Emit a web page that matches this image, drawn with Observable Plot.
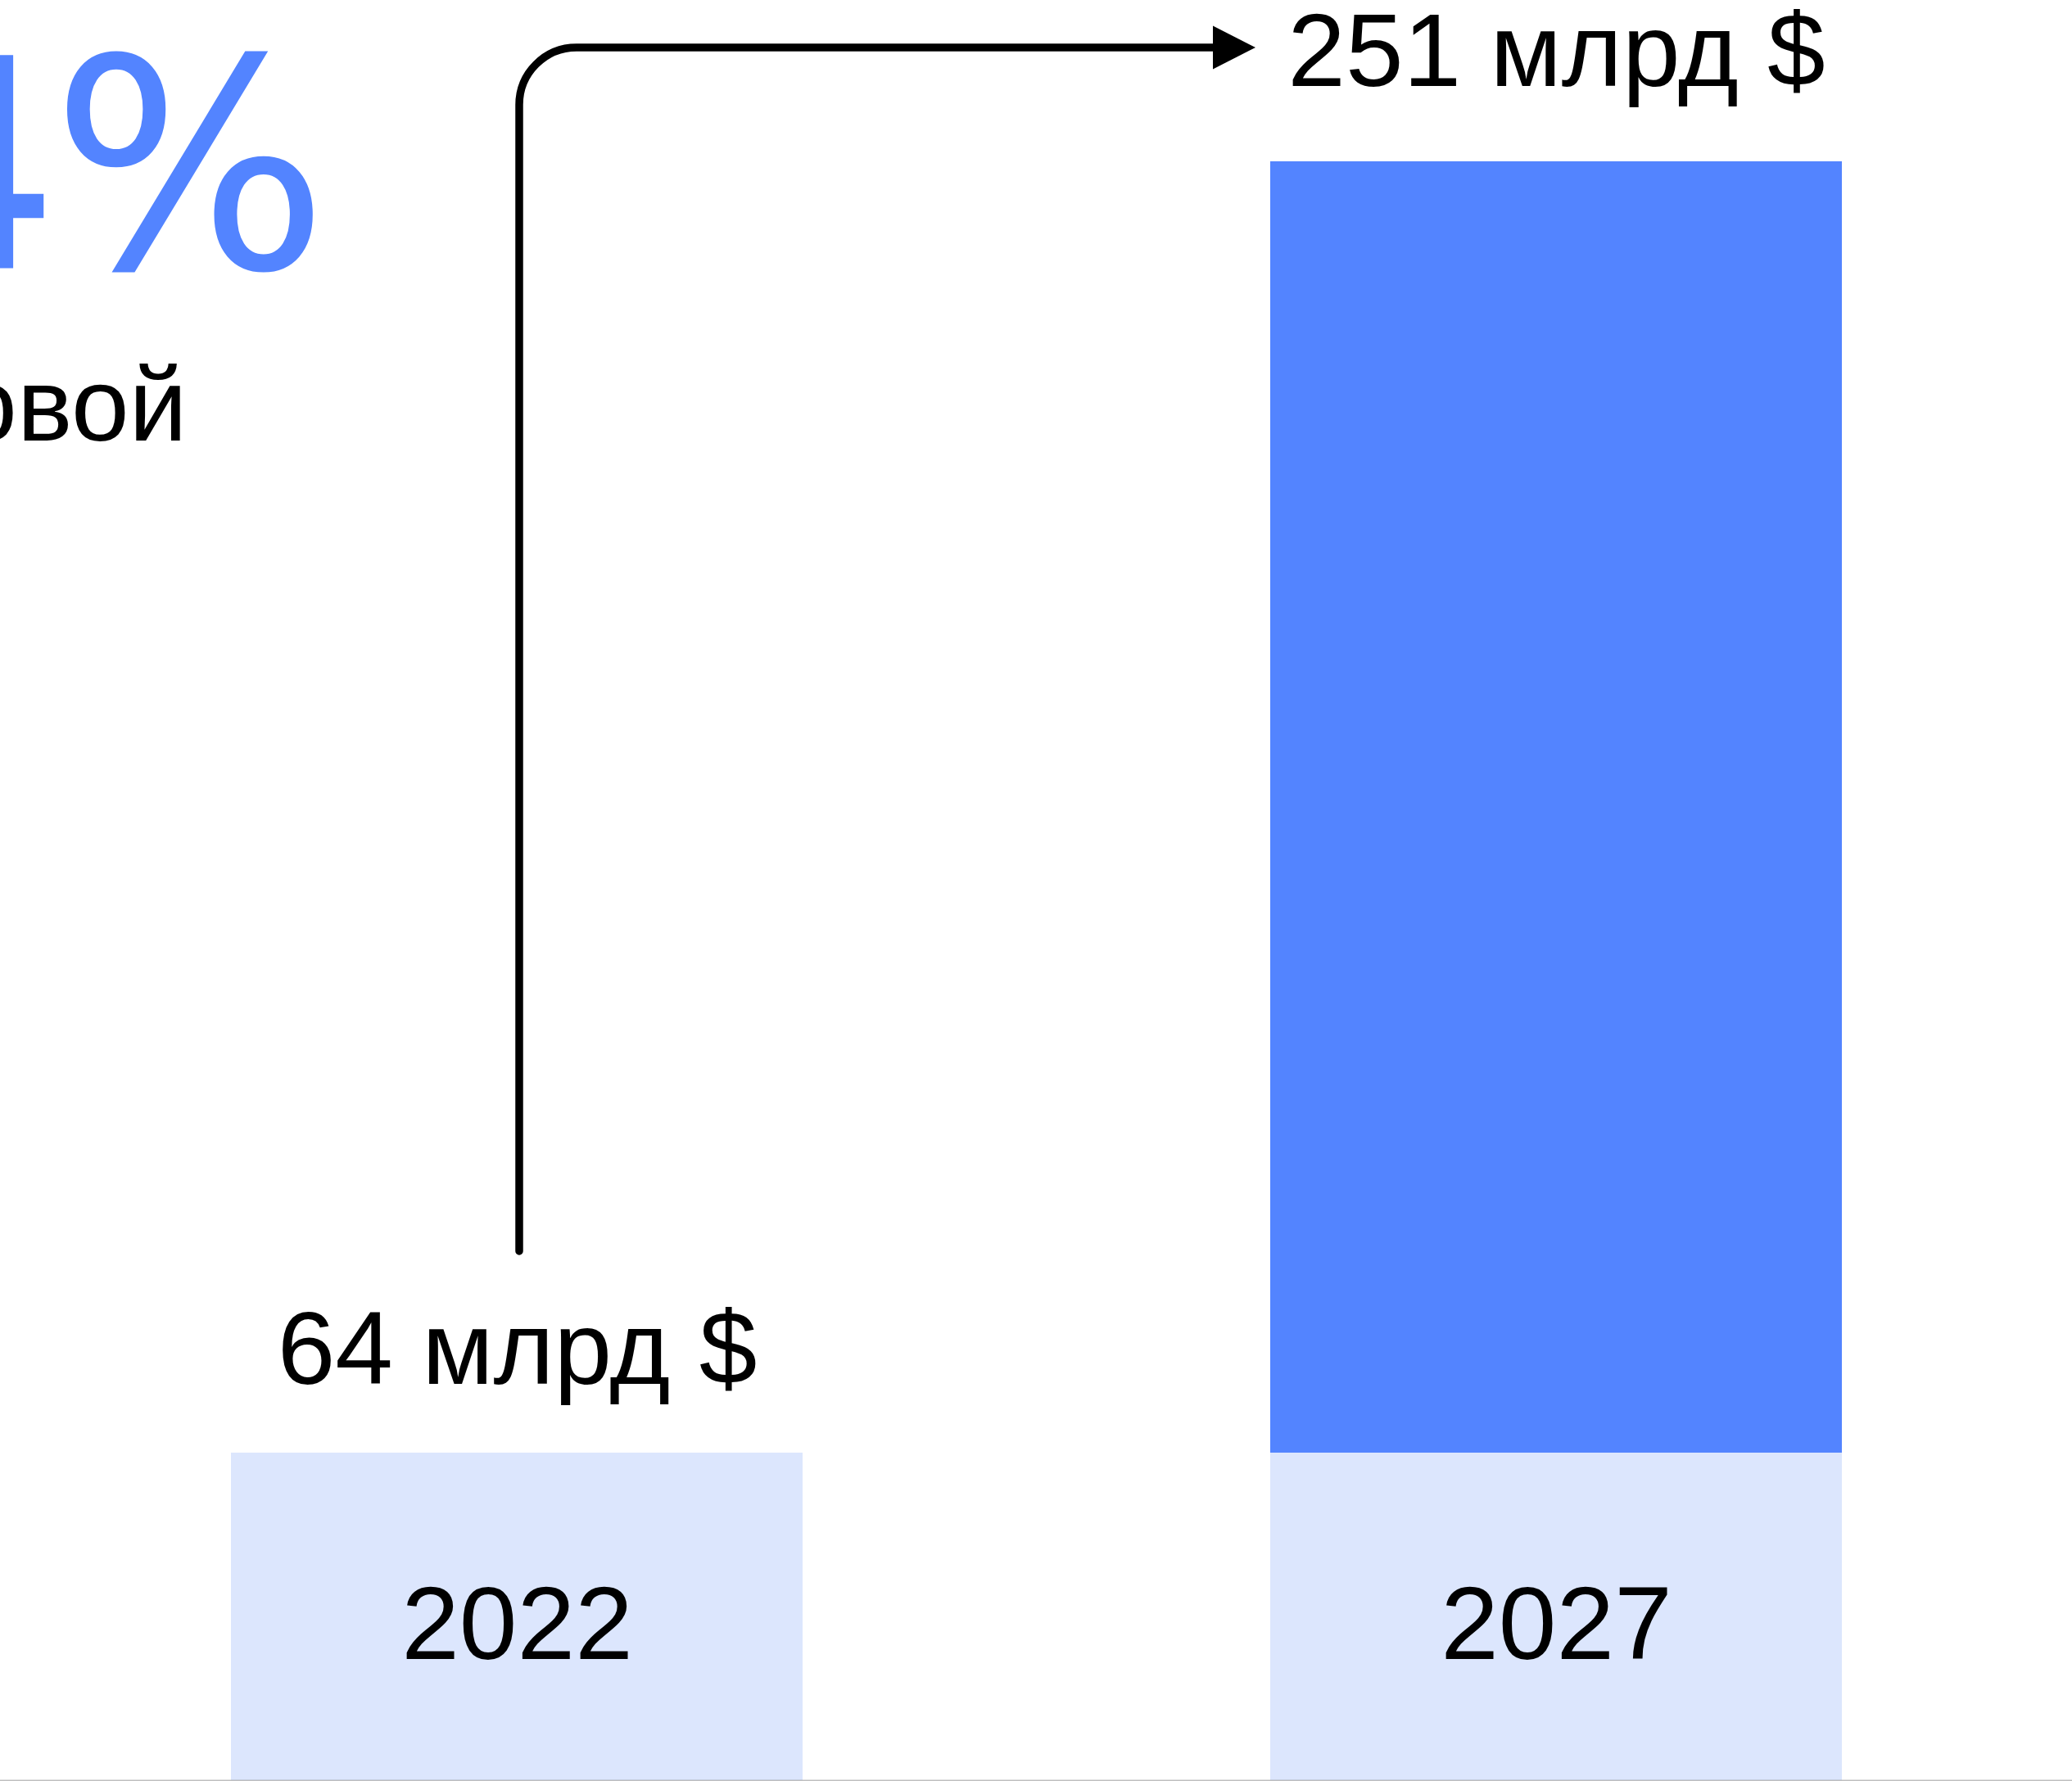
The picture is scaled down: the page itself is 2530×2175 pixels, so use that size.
<!DOCTYPE html>
<html>
<head>
<meta charset="utf-8">
<script src="https://cdn.jsdelivr.net/npm/d3@7"></script>
<script src="https://cdn.jsdelivr.net/npm/@observablehq/plot@0.6"></script>
<style>
  html, body { margin: 0; padding: 0; background: #fff; overflow: hidden; }
  #chart svg { display: block; }
</style>
</head>
<body>
<div id="chart"></div>
<script>
// ---- data ----
const years = ["2022", "2027"];
const values = [64, 251];
const valueLabels = ["64 млрд $", "251 млрд $"];
const baseValue = 64;          // light pedestal shared by both bars
const headline = "4%";
const subline = "овой";

const BLUE = "#5384ff";
const LIGHT = "#dce6fd";
const FONT = "'Liberation Sans', Arial, Helvetica, sans-serif";
const HEAD_FONT = "'DejaVu Sans', 'Liberation Sans', sans-serif";

const rows = years.map((year, i) => ({year, value: values[i], label: valueLabels[i], base: baseValue}));

function arrowMark(index, scales) {
  const x = scales.x, y = scales.y;
  const bw = x.bandwidth();
  const x0 = x(years[0]) + bw / 2 + 3;
  const yStart = y(values[0]) - 246;
  const yTop = y(values[1]) - 139;
  const xHead = x(years[1]) - 70;
  const r = 70;
  const g = d3.create("svg:g");
  g.append("path")
    .attr("d", `M${x0},${yStart}V${yTop + r}A${r},${r} 0 0 1 ${x0 + r},${yTop}H${xHead + 4}`)
    .attr("fill", "none").attr("stroke", "#000").attr("stroke-width", 9.5)
    .attr("stroke-linecap", "round");
  g.append("path")
    .attr("d", `M${xHead},${yTop - 26.5}L${xHead + 52},${yTop}L${xHead},${yTop + 26.5}Z`)
    .attr("fill", "#000");
  return g.node();
}

const chart = Plot.plot({
  width: 2530,
  height: 2175,
  margin: 0,
  style: {fontFamily: FONT, background: "#fff", overflow: "visible"},
  x: {type: "band", domain: years, range: [282, 2249], paddingInner: 0.45, paddingOuter: 0, axis: null},
  y: {type: "linear", domain: [0, 64, 251], range: [2174, 1774, 197], axis: null},
  marks: [
    Plot.barY(rows, {x: "year", y1: 0, y2: "base", fill: LIGHT}),
    Plot.barY(rows.filter(d => d.value > d.base), {x: "year", y1: "base", y2: "value", fill: BLUE}),
    Plot.ruleY([0], {stroke: "#8a8a8a", strokeOpacity: 0.55, strokeWidth: 2}),
    Plot.text(rows, {x: "year", y: d => d.base / 2, text: "year", fontSize: 127, lineAnchor: "bottom", dy: 51, fill: "#000"}),
    Plot.text([rows[0]], {x: "year", y: "value", text: "label", fontSize: 127, lineAnchor: "bottom", dy: -85, fill: "#000"}),
    Plot.text([rows[1]], {x: "year", y: "value", text: "label", fontSize: 127, lineAnchor: "bottom", dy: -93, fill: "#000"}),
    arrowMark,
    Plot.text([headline], {frameAnchor: "top-left", text: d => d, textAnchor: "end", lineAnchor: "bottom", dx: 390, dy: 327, fontSize: 357, fontFamily: HEAD_FONT, fill: BLUE}),
    Plot.text([subline], {frameAnchor: "top-left", text: d => d, textAnchor: "end", lineAnchor: "bottom", dx: 228, dy: 537, fontSize: 127, fill: "#000"})
  ]
});

// tighten the headline's letter spacing like the reference
d3.select(chart).selectAll("text")
  .filter(function () { return this.textContent === headline; })
  .attr("letter-spacing", -11);

document.getElementById("chart").appendChild(chart);
</script>
</body>
</html>
